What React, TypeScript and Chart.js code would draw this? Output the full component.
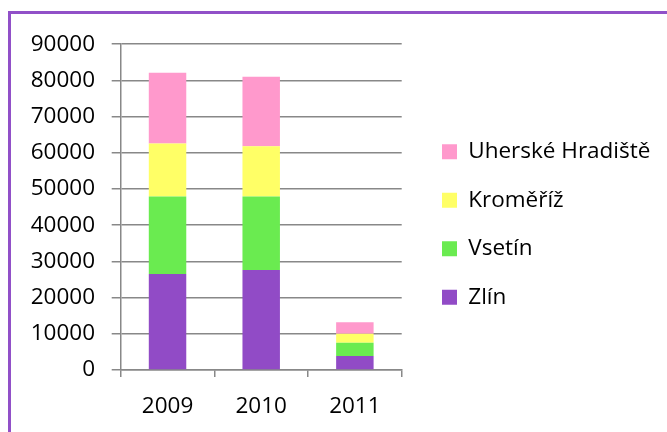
import { useEffect, useRef } from 'react';
import { Chart, registerables } from 'chart.js';

Chart.register(...registerables);

const categories = ['2009', '2010', '2011'];
const seriesNames = ['Zlín', 'Vsetín', 'Kroměříž', 'Uherské Hradiště'];
const zlin = [26500, 27600, 3900];
const vsetin = [21400, 20300, 3600];
const kromeriz = [14700, 13900, 2500];
const uherskeHradiste = [19500, 19200, 3200];
const yMin = 0;
const yMax = 90000;
const yStep = 10000;

const colors = ['#914BC6', '#6AEB50', '#FFFF66', '#FF99CC'];

export default function App() {
  const ref = useRef<HTMLCanvasElement>(null);

  useEffect(() => {
    if (!ref.current) return;
    const FONT = "'Open Sans', sans-serif";
    const GRID = '#888888';

    const legendFix = {
      id: 'legendFix',
      beforeLayout(chart: any) {
        const lg = chart.legend;
        if (lg && !lg.__fixed) {
          const orig = lg.fit.bind(lg);
          lg.fit = function () {
            orig();
            this.width = 265.3;
          };
          lg.__fixed = true;
        }
      },
      afterLayout(chart: any) {
        const lg = chart.legend;
        if (lg) {
          lg.left = 405;
          lg.right = 405 + lg.width;
        }
      },
    };

    const values = [zlin, vsetin, kromeriz, uherskeHradiste];
    const chart = new Chart(ref.current, {
      type: 'bar',
      data: {
        labels: categories,
        datasets: seriesNames.map((name, i) => ({
          label: name,
          data: values[i],
          backgroundColor: colors[i],
          borderWidth: 0,
          categoryPercentage: 1,
          barPercentage: 0.4,
        })),
      },
      options: {
        responsive: false,
        animation: false,
        layout: { padding: { top: 10.3, bottom: 7.4, left: 0, right: 0 } },
        plugins: {
          tooltip: { enabled: false },
          legend: {
            position: 'right',
            reverse: true,
            labels: {
              boxWidth: 15,
              boxHeight: 15,
              padding: 26,
              color: '#000',
              font: { family: FONT, size: 22.5 },
            },
          },
        },
        scales: {
          x: {
            stacked: true,
            grid: {
              display: true,
              drawOnChartArea: false,
              drawTicks: true,
              tickLength: 7,
              color: GRID,
              lineWidth: 1.5,
              offset: true,
            },
            border: { display: true, color: GRID, width: 1.5 },
            ticks: { color: '#000', padding: 16, font: { family: FONT, size: 22.5 } },
            afterFit: (s: any) => {
              s.height = 54.6;
            },
          },
          y: {
            stacked: true,
            min: yMin,
            max: yMax,
            grid: { color: GRID, lineWidth: 1.5, tickLength: 9, drawTicks: true },
            border: { display: true, color: GRID, width: 1.5 },
            ticks: {
              stepSize: yStep,
              color: '#000',
              padding: 16.7,
              font: { family: FONT, size: 22.5 },
              callback: (v: any) => String(v),
            },
            afterFit: (s: any) => {
              s.width = 109.7;
            },
          },
        },
      },
      plugins: [legendFix],
    } as any);
    return () => chart.destroy();
  }, []);

  return (
    <div
      style={{
        position: 'absolute',
        left: 8,
        top: 11,
        width: 656,
        height: 418,
        borderTop: '3px solid #9150C8',
        borderLeft: '3px solid #9150C8',
        background: '#fff',
      }}
    >
      <canvas ref={ref} width={656} height={418} style={{ display: 'block' }} />
    </div>
  );
}
